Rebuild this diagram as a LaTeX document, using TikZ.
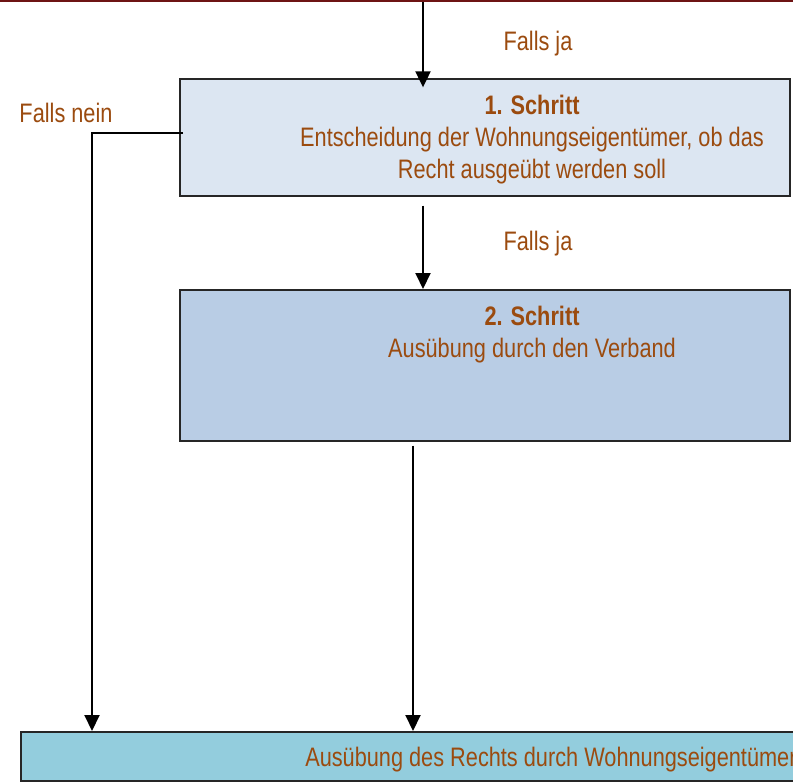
\documentclass[tikz,border=0pt]{standalone}
\usepackage{fontspec}
\setmainfont{Liberation Sans}
\usepackage{xcolor}
\usepackage{graphicx}
\usetikzlibrary{calc}
\usetikzlibrary{arrows.meta}
\definecolor{txtbrown}{RGB}{155,75,15}
\definecolor{boxone}{RGB}{220,230,242}
\definecolor{boxtwo}{RGB}{185,205,229}
\definecolor{boxfinal}{RGB}{147,205,221}
\definecolor{topred}{RGB}{110,20,20}
\newcommand{\tall}[1]{\scalebox{1}[1.23]{#1}}
\tikzset{stepbox/.style={draw=black!85, line width=1.3pt, inner sep=0, anchor=north west}}
\tikzset{steptext/.style={text=txtbrown, align=center, font=\fontsize{16.3}{24}\selectfont, inner sep=0}}
\tikzset{flow/.style={draw, line width=1.5pt, -{Triangle[length=12pt, width=11.25pt]}}}

\begin{document}
\begin{tikzpicture}[x=0.75pt, y=-0.75pt]
  \useasboundingbox (0,0) rectangle (793,782);
  \clip (0,0) rectangle (793,782);

  % edge of the box above, cut off
  \draw[topred, line width=1.5pt] (0,1) -- (793,1);
  \coordinate (top) at (423,2);

  \node[stepbox, fill=boxone, minimum width=457.5pt, minimum height=87.75pt] at (179,78) (box1) {};
  \node[steptext] at (532,139.5) (t1) {\tall{\textbf{1. Schritt}}\\\tall{Entscheidung der Wohnungseigentümer, ob das}\\\tall{Recht ausgeübt werden soll}};

  \node[stepbox, fill=boxtwo, minimum width=457.5pt, minimum height=113.25pt] at (179,289) (box2) {};
  \node[steptext] at (532,334.5) (t2) {\tall{\textbf{2. Schritt}}\\\tall{Ausübung durch den Verband}};

  \node[stepbox, fill=boxfinal, minimum width=600pt, minimum height=36.75pt] at (20,731) (final) {};
  \node[steptext, anchor=west] at (305,760) (t3) {\tall{Ausübung des Rechts durch Wohnungseigentümer}};

  \node[steptext] at (538,44) (yes1) {\tall{Falls ja}};
  \node[steptext] at (538,244) (yes2) {\tall{Falls ja}};
  \node[steptext] at (66,113) (no) {\tall{Falls nein}};

  \draw[flow, shorten >=-7] (top) -- (top |- box1.north);
  \draw[flow] ($(box1.south west)+(244,9)$) coordinate (a2) -- (a2 |- box2.north);
  \draw[flow] ($(box2.south west)+(234,4)$) coordinate (a3) -- (a3 |- final.north);
  \draw[flow] ($(box1.north west)+(4,55)$) -| ($(final.north west)+(72,0)$);
\end{tikzpicture}
\end{document}
